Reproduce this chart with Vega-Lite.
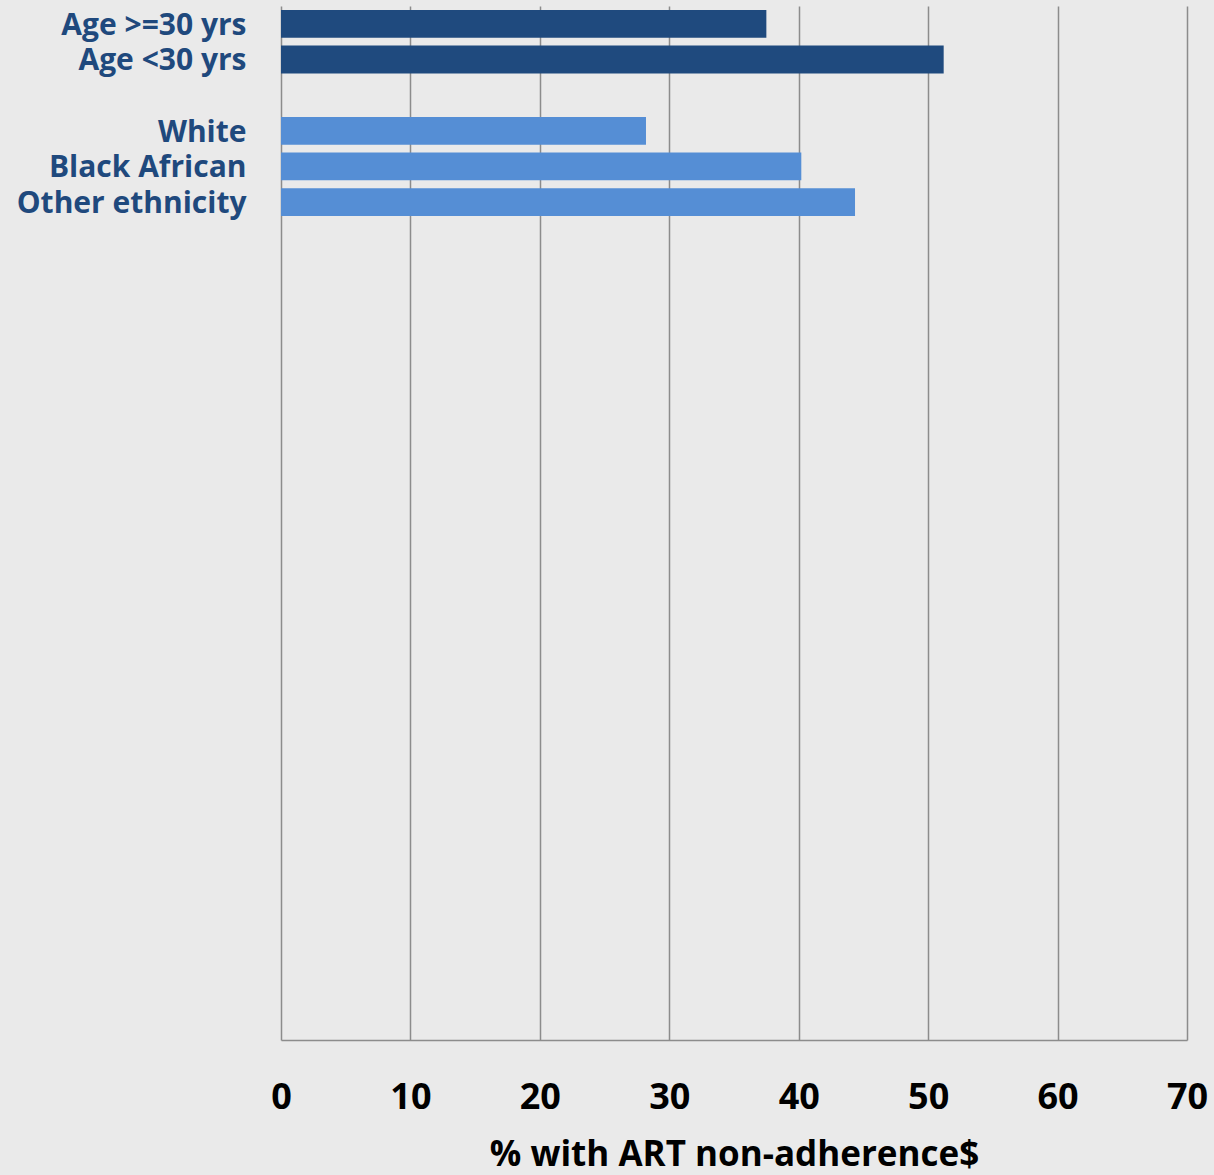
{
  "$schema": "https://vega.github.io/schema/vega-lite/v6.json",
  "autosize": "none",
  "padding": {"left": 281, "top": 6, "right": 27, "bottom": 135},
  "width": 906,
  "height": 1034,
  "background": "#eaeaea",
  "view": {"fill": "#eaeaea", "stroke": null},
  "data": {
    "values": [
      {"category": "Age >=30 yrs", "group": "Age", "pct": 37.5},
      {"category": "Age <30 yrs", "group": "Age", "pct": 51.2},
      {"category": "White", "group": "Ethnicity", "pct": 28.2},
      {"category": "Black African", "group": "Ethnicity", "pct": 40.2},
      {"category": "Other ethnicity", "group": "Ethnicity", "pct": 44.35}
    ]
  },
  "mark": {"type": "bar"},
  "encoding": {
    "y": {
      "field": "category",
      "type": "nominal",
      "scale": {
        "domain": ["Age >=30 yrs", "Age <30 yrs", "_a", "White", "Black African", "Other ethnicity",
          "_b", "_c", "_d", "_e", "_f", "_g", "_h", "_i", "_j", "_k", "_l", "_m", "_n", "_o", "_p", "_q", "_r", "_s", "_t", "_u", "_v", "_w", "_x"],
        "paddingInner": 0.22,
        "paddingOuter": 0.11
      },
      "axis": {
        "title": null,
        "domain": false,
        "ticks": false,
        "grid": false,
        "labelExpr": "substring(datum.value, 0, 1) == '_' ? '' : datum.value",
        "labelFont": "Open Sans",
        "labelFontWeight": "bold",
        "labelFontSize": 30,
        "labelColor": "#1f497d",
        "labelPadding": 35,
        "labelOffset": 2,
        "labelLimit": 400
      }
    },
    "x": {
      "field": "pct",
      "type": "quantitative",
      "scale": {"domain": [0, 70], "nice": false},
      "axis": {
        "values": [0, 10, 20, 30, 40, 50, 60, 70],
        "title": "% with ART non-adherence$",
        "titleFont": "Open Sans",
        "titleFontWeight": "bold",
        "titleFontSize": 35,
        "titleColor": "#000000",
        "titlePadding": 22,
        "grid": true,
        "gridColor": "#8c8c8c",
        "gridWidth": 1.5,
        "domain": true,
        "domainColor": "#8c8c8c",
        "domainWidth": 1.5,
        "ticks": false,
        "labelFont": "Open Sans",
        "labelFontWeight": "bold",
        "labelFontSize": 36,
        "labelColor": "#000000",
        "labelPadding": 40,
        "labelFlush": false,
        "labelOverlap": false
      }
    },
    "color": {
      "field": "group",
      "type": "nominal",
      "scale": {"domain": ["Age", "Ethnicity"], "range": ["#1f4a7e", "#558ed5"]},
      "legend": null
    }
  }
}
